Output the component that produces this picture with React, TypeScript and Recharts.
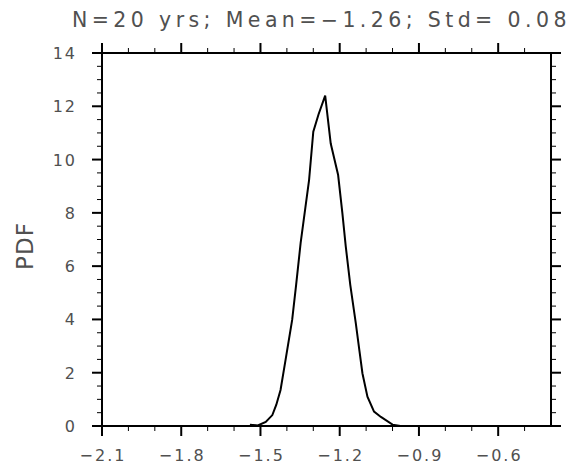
import React from "react";
import { LineChart, Line, XAxis, YAxis } from "recharts";

const titleText = "N=20 yrs; Mean=\u22121.26; Std= 0.08";
const yLabelText = "PDF";

const pdfX = [-1.54, -1.51, -1.48, -1.455, -1.44, -1.424, -1.405, -1.38, -1.365, -1.348, -1.33, -1.316, -1.3, -1.28, -1.255, -1.234, -1.206, -1.19, -1.177, -1.16, -1.139, -1.125, -1.114, -1.095, -1.07, -1.044, -1.0, -0.97];
const pdfY = [0.05, 0.02, 0.15, 0.41, 0.8, 1.35, 2.48, 3.98, 5.3, 6.86, 8.2, 9.23, 11.05, 11.7, 12.4, 10.6, 9.42, 8.0, 6.73, 5.3, 3.85, 2.8, 1.98, 1.1, 0.54, 0.34, 0.05, 0.0];

const xMajorTicks = [-2.1, -1.8, -1.5, -1.2, -0.9, -0.6];
const xMinorTicks = [-2.0, -1.9, -1.7, -1.6, -1.4, -1.3, -1.1, -1.0, -0.8, -0.7, -0.5];
const yMajorTicks = [0, 2, 4, 6, 8, 10, 12, 14];
const yMinorTicks = [0.5, 1, 1.5, 2.5, 3, 3.5, 4.5, 5, 5.5, 6.5, 7, 7.5, 8.5, 9, 9.5, 10.5, 11, 11.5, 12.5, 13, 13.5];

const xDomain = [-2.1, -0.4];
const yDomain = [0, 14];

const data = pdfX.map((x, i) => ({ x, y: pdfY[i] }));
const xTicks = [...xMajorTicks, ...xMinorTicks].sort((a, b) => a - b);
const yTicks = [...yMajorTicks, ...yMinorTicks].sort((a, b) => a - b);

const isMajor = (v: number, list: number[]) => list.some((m) => Math.abs(m - v) < 1e-6);
const fmt = (v: number) => {
  const s = Number.isInteger(v) ? String(v) : v.toFixed(1);
  return s.replace("-", "\u2212");
};

const FONT = "'DejaVu Sans', sans-serif";
const TXT = "#505050";
const MAJ = 10;
const MIN = 5;

const BottomTick = (props: any) => {
  const { x, y, payload } = props;
  const major = isMajor(payload.value, xMajorTicks);
  return (
    <g>
      <line x1={x} x2={x} y1={y} y2={y + (major ? MAJ : MIN)} stroke="#000" strokeWidth={major ? 2 : 1} />
      {major && (
        <text x={x + 1} y={y + 34.5} textAnchor="middle" fontFamily={FONT} fontSize={16} letterSpacing={2} fill={TXT}>
          {fmt(payload.value)}
        </text>
      )}
    </g>
  );
};

const TopTick = (props: any) => {
  const { x, y, payload } = props;
  const major = isMajor(payload.value, xMajorTicks);
  return <line x1={x} x2={x} y1={y} y2={y - (major ? MAJ : MIN)} stroke="#000" strokeWidth={major ? 2 : 1} />;
};

const LeftTick = (props: any) => {
  const { x, y, payload } = props;
  const major = isMajor(payload.value, yMajorTicks);
  return (
    <g>
      <line x1={x} x2={x - (major ? MAJ : MIN)} y1={y} y2={y} stroke="#000" strokeWidth={major ? 2 : 1} />
      {major && (
        <text x={x - 25} y={y + 6} textAnchor="end" fontFamily={FONT} fontSize={16} letterSpacing={2} fill={TXT}>
          {fmt(payload.value)}
        </text>
      )}
    </g>
  );
};

const RightTick = (props: any) => {
  const { x, y, payload } = props;
  const major = isMajor(payload.value, yMajorTicks);
  return <line x1={x} x2={x + (major ? MAJ : MIN)} y1={y} y2={y} stroke="#000" strokeWidth={major ? 2 : 1} />;
};

const axisLine = { stroke: "#000", strokeWidth: 2 };

export default function App() {
  return (
    <div style={{ position: "absolute", left: 0, top: 0, width: 575, height: 463, background: "#fff" }}>
      <LineChart width={575} height={463} data={data} margin={{ top: 52, right: 23, bottom: 36, left: 101 }}>
        <XAxis xAxisId="b" dataKey="x" type="number" domain={xDomain} ticks={xTicks} interval={0} orientation="bottom" height={1} tickSize={0} tickMargin={0} tickLine={false} axisLine={axisLine} tick={BottomTick} allowDataOverflow />
        <XAxis xAxisId="t" dataKey="x" type="number" domain={xDomain} ticks={xTicks} interval={0} orientation="top" height={1} tickSize={0} tickMargin={0} tickLine={false} axisLine={axisLine} tick={TopTick} allowDataOverflow />
        <YAxis yAxisId="l" type="number" domain={yDomain} ticks={yTicks} interval={0} orientation="left" width={1} tickSize={0} tickMargin={0} tickLine={false} axisLine={axisLine} tick={LeftTick} allowDataOverflow />
        <YAxis yAxisId="r" type="number" domain={yDomain} ticks={yTicks} interval={0} orientation="right" width={1} tickSize={0} tickMargin={0} tickLine={false} axisLine={axisLine} tick={RightTick} allowDataOverflow />
        <Line xAxisId="b" yAxisId="l" type="linear" dataKey="y" stroke="#000" strokeWidth={2} dot={false} activeDot={false} isAnimationActive={false} />
        <text x={72} y={26.5} fontFamily={FONT} fontSize={20.5} letterSpacing={4.4} fill={TXT}>
          {titleText}
        </text>
        <text transform="translate(33,246) rotate(-90)" textAnchor="middle" fontFamily={FONT} fontSize={23} letterSpacing={1} fill={TXT}>
          {yLabelText}
        </text>
      </LineChart>
    </div>
  );
}
